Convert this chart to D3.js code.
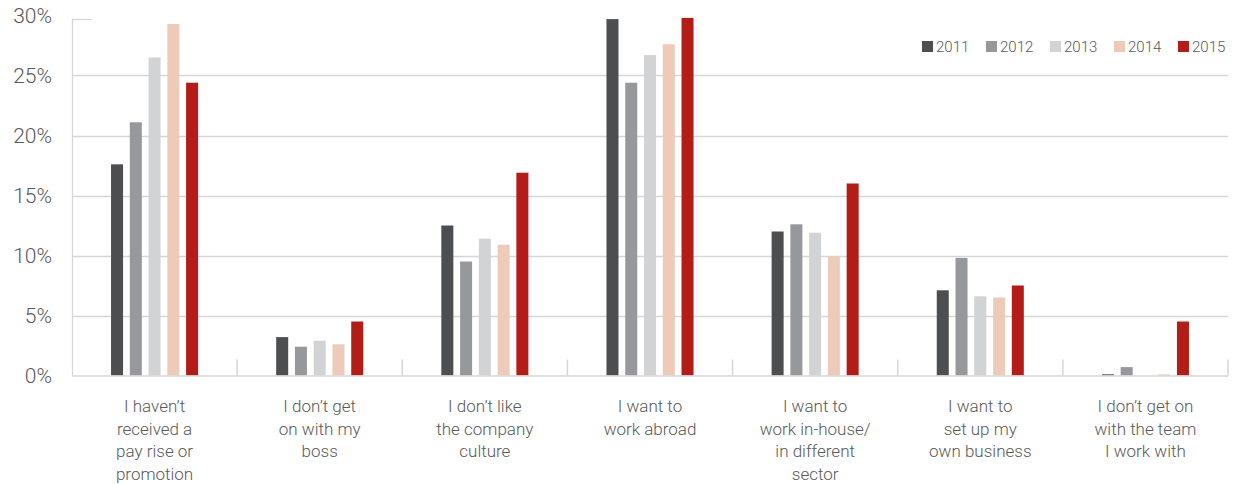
<!DOCTYPE html>
<html>
<head>
<meta charset="utf-8">
<script src="https://cdn.jsdelivr.net/npm/d3@7"></script>
<style>
  html, body { margin: 0; padding: 0; background: #fff; }
  svg { display: block; }
  text { font-family: Roboto, "Liberation Sans", sans-serif; font-weight: 300; fill: #595959; }
</style>
</head>
<body>
<svg id="chart" width="1241" height="484"></svg>
<script>
// Reasons for leaving, share of respondents by survey year
const categories = [
  ["I haven\u2019t", "received a", "pay rise or", "promotion"],
  ["I don\u2019t get", "on with my", "boss"],
  ["I don\u2019t like", "the company", "culture"],
  ["I want to", "work abroad"],
  ["I want to", "work in-house/", "in different", "sector"],
  ["I want to", "set up my", "own business"],
  ["I don\u2019t get on", "with the team", "I work with"]
];
const years = ["2011", "2012", "2013", "2014", "2015"];
const v2011 = [17.6, 3.2, 12.5, 29.7, 12.0, 7.1, 0.1];
const v2012 = [21.1, 2.4, 9.5, 24.4, 12.6, 9.8, 0.7];
const v2013 = [26.5, 2.9, 11.4, 26.7, 11.9, 6.6, 0.0];
const v2014 = [29.3, 2.6, 10.9, 27.6, 9.9, 6.5, 0.1];
const v2015 = [24.4, 4.5, 16.9, 29.8, 16.0, 7.5, 4.5];
const yTicks = [0, 5, 10, 15, 20, 25, 30];
const colors = ["#4d4e50", "#97989b", "#d2d3d5", "#eecbb8", "#b41c18"];

const series = [v2011, v2012, v2013, v2014, v2015];
const catIds = categories.map((c, i) => i);

const svg = d3.select("#chart");
const plotLeft = 72, plotRight = 1228, plotTop = 15.5, plotBottom = 375.5;

const x0 = d3.scaleBand().domain(catIds).range([plotLeft, plotRight])
  .paddingInner(0.432).paddingOuter(0.216);
const x1 = d3.scaleBand().domain(years).range([0, x0.bandwidth()])
  .paddingInner(0.36).paddingOuter(0.18);
const y = d3.scaleLinear().domain([0, 30]).range([plotBottom, plotTop]);
const color = d3.scaleOrdinal().domain(years).range(colors);

// Horizontal gridlines (the top one is only a short stub)
const grid = svg.append("g");
grid.selectAll("line").data(yTicks.filter(t => t > 0)).join("line")
  .attr("x1", plotLeft).attr("x2", t => t === 30 ? plotLeft + 20 : plotRight)
  .attr("y1", t => Math.round(y(t)) + 0.5 + (t === 30 ? 3 : 0))
  .attr("y2", t => Math.round(y(t)) + 0.5 + (t === 30 ? 3 : 0))
  .attr("stroke", "#d6d6d6").attr("stroke-width", 1.3);

// Y axis labels
const yAxis = d3.axisLeft(y).tickValues(yTicks).tickFormat(d => d + "%").tickSize(0).tickPadding(20);
const gy = svg.append("g").attr("transform", `translate(${plotLeft},0)`).call(yAxis);
gy.select(".domain").remove();
gy.selectAll("text")
  .style("font-family", "Roboto, 'Liberation Sans', sans-serif")
  .style("font-weight", 300)
  .attr("font-size", 21).attr("fill", "#595959").attr("dy", "0.35em");

// Left axis line
svg.append("line")
  .attr("x1", plotLeft + 0.5).attr("x2", plotLeft + 0.5)
  .attr("y1", y(30) + 3).attr("y2", plotBottom)
  .attr("stroke", "#d6d6d6").attr("stroke-width", 1.3);

// Bars
const groups = svg.append("g").selectAll("g").data(catIds).join("g")
  .attr("transform", i => `translate(${x0(i)},0)`);
groups.selectAll("rect")
  .data(i => years.map((yr, k) => ({ year: yr, value: series[k][i] })))
  .join("rect")
  .attr("x", d => x1(d.year))
  .attr("width", x1.bandwidth())
  .attr("y", d => y(d.value))
  .attr("height", d => y(0) - y(d.value))
  .attr("fill", d => color(d.year));

// Baseline and category separator ticks
svg.append("line")
  .attr("x1", plotLeft).attr("x2", plotRight)
  .attr("y1", plotBottom + 0.5).attr("y2", plotBottom + 0.5)
  .attr("stroke", "#d6d6d6").attr("stroke-width", 1.5);
const step = x0.step();
const seps = d3.range(1, categories.length + 1).map(k => plotLeft + k * step);
svg.append("g").selectAll("line").data(seps).join("line")
  .attr("x1", d => d).attr("x2", d => d)
  .attr("y1", plotBottom - 16).attr("y2", plotBottom)
  .attr("stroke", "#d6d6d6").attr("stroke-width", 1.5);

// Category labels
const labels = svg.append("g").selectAll("text").data(catIds).join("text")
  .attr("text-anchor", "middle")
  .attr("font-size", 17)
  .attr("transform", i => `translate(${x0(i) + x0.bandwidth() / 2},0)`);
labels.selectAll("tspan").data(i => categories[i]).join("tspan")
  .attr("x", 0)
  .attr("y", (d, j) => 412 + j * 22.6)
  .text(d => d);

// Legend
const legend = svg.append("g").selectAll("g").data(years).join("g")
  .attr("transform", (d, k) => `translate(${922 + k * 64},41)`);
legend.append("rect").attr("width", 11).attr("height", 11).attr("fill", d => color(d));
legend.append("text").attr("x", 14).attr("y", 10.5).attr("font-size", 15).text(d => d);
</script>
</body>
</html>
